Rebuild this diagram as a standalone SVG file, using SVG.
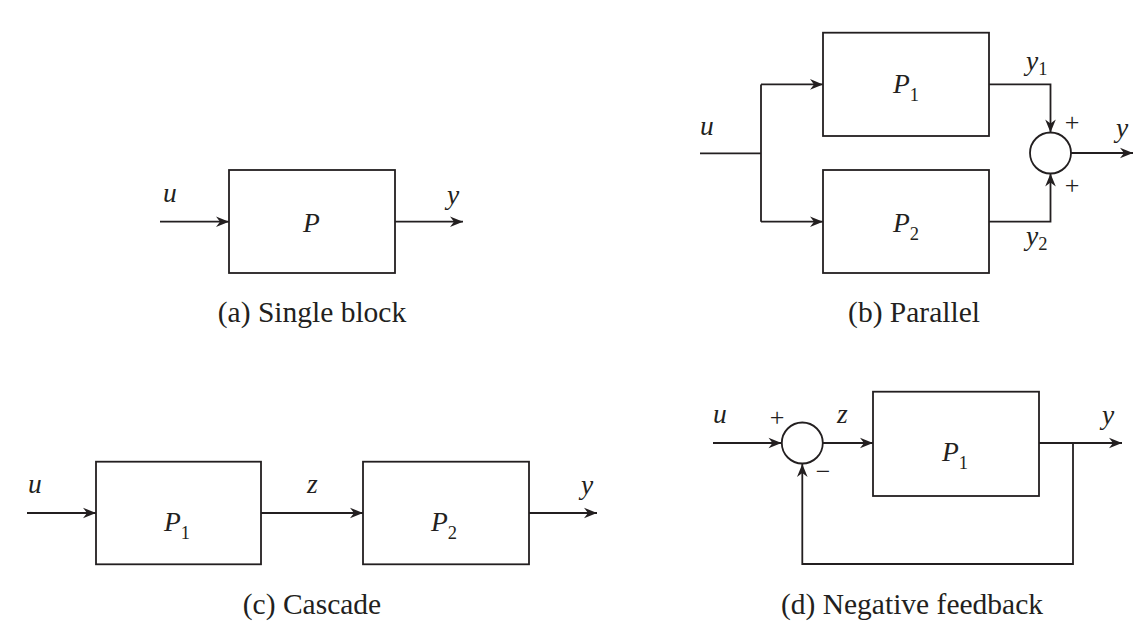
<svg xmlns="http://www.w3.org/2000/svg" width="1146" height="636" viewBox="0 0 1146 636">
<defs>
<style>
.ln{fill:none;stroke:#231f20;stroke-width:1.8}
.bx{fill:#fff;stroke:#231f20;stroke-width:1.8}
.m{font-family:"Liberation Serif",serif;font-style:italic;font-size:27.5px;fill:#231f20}
.s{font-style:normal;font-size:18.5px}
.c{font-family:"Liberation Serif",serif;font-size:29.5px;fill:#231f20;text-anchor:middle}
.sg{font-family:"Liberation Serif",serif;font-size:26px;fill:#231f20;text-anchor:middle}
</style>
<marker id="ah" viewBox="-14 -6 15 12" refX="0" refY="0" markerWidth="15" markerHeight="12" markerUnits="userSpaceOnUse" orient="auto">
<path d="M0,0 L-13,-5.3 L-9,0 L-13,5.3 Z" fill="#231f20"/>
</marker>
</defs>
<g id="connectors">
<line class="ln" x1="160" y1="221.7" x2="229" y2="221.7" marker-end="url(#ah)"/>
<line class="ln" x1="395" y1="221.7" x2="463" y2="221.7" marker-end="url(#ah)"/>
<line class="ln" x1="700" y1="153.3" x2="761" y2="153.3"/>
<line class="ln" x1="761" y1="84.4" x2="761" y2="221.7"/>
<line class="ln" x1="761" y1="84.4" x2="823" y2="84.4" marker-end="url(#ah)"/>
<line class="ln" x1="761" y1="221.7" x2="823" y2="221.7" marker-end="url(#ah)"/>
<polyline class="ln" points="989,84.4 1050.5,84.4 1050.5,132.5" marker-end="url(#ah)"/>
<polyline class="ln" points="989,221.7 1050.5,221.7 1050.5,173.5" marker-end="url(#ah)"/>
<line class="ln" x1="1071" y1="153" x2="1133" y2="153" marker-end="url(#ah)"/>
<line class="ln" x1="27" y1="513" x2="96" y2="513" marker-end="url(#ah)"/>
<line class="ln" x1="261" y1="513" x2="363" y2="513" marker-end="url(#ah)"/>
<line class="ln" x1="529" y1="513" x2="597" y2="513" marker-end="url(#ah)"/>
<line class="ln" x1="713" y1="443" x2="781.5" y2="443" marker-end="url(#ah)"/>
<line class="ln" x1="823" y1="443" x2="873" y2="443" marker-end="url(#ah)"/>
<line class="ln" x1="1039" y1="443" x2="1122" y2="443" marker-end="url(#ah)"/>
<polyline class="ln" points="1073,443 1073,564 802.3,564 802.3,464" marker-end="url(#ah)"/>
</g>
<g id="a-block">
<rect class="bx" x="229" y="170" width="166" height="103"/>
<text class="m" x="303" y="231.5">P</text>
</g>
<g id="a-labels">
<text class="m" x="163" y="202">u</text>
<text class="m" x="447" y="204">y</text>
<text class="c" x="312" y="322">(a) Single block</text>
</g>
<g id="b-p1">
<rect class="bx" x="823" y="32.7" width="166" height="103.3"/>
<text class="m" x="893" y="93.3">P<tspan class="s" dy="8">1</tspan></text>
</g>
<g id="b-p2">
<rect class="bx" x="823" y="170" width="166" height="103"/>
<text class="m" x="893" y="231.5">P<tspan class="s" dy="8">2</tspan></text>
</g>
<g id="b-sum">
<circle class="ln" cx="1050.5" cy="153" r="20.5"/>
<text class="sg" x="1072" y="131" fill="#231f20">+</text>
<text class="sg" x="1072" y="194" fill="#231f20">+</text>
</g>
<g id="b-labels">
<text class="m" x="700" y="135">u</text>
<text class="m" x="1116" y="137">y</text>
<text class="m" x="1026" y="70">y<tspan class="s" dy="5">1</tspan></text>
<text class="m" x="1026" y="245">y<tspan class="s" dy="5">2</tspan></text>
<text class="c" x="914" y="322">(b) Parallel</text>
</g>
<g id="c-p1">
<rect class="bx" x="96" y="461.7" width="165" height="102.6"/>
<text class="m" x="164" y="531">P<tspan class="s" dy="8">1</tspan></text>
</g>
<g id="c-p2">
<rect class="bx" x="363" y="461.7" width="166" height="102.6"/>
<text class="m" x="431" y="531">P<tspan class="s" dy="8">2</tspan></text>
</g>
<g id="c-labels">
<text class="m" x="28" y="493">u</text>
<text class="m" x="307" y="493">z</text>
<text class="m" x="581" y="494">y</text>
<text class="c" x="312" y="614">(c) Cascade</text>
</g>
<g id="d-sum">
<circle class="ln" cx="802.3" cy="443" r="20.5"/>
<text class="sg" x="777" y="426">+</text>
<text class="sg" x="823" y="480">−</text>
</g>
<g id="d-p1">
<rect class="bx" x="873" y="391.7" width="166" height="104.3"/>
<text class="m" x="942" y="461">P<tspan class="s" dy="8">1</tspan></text>
</g>
<g id="d-labels">
<text class="m" x="713" y="423">u</text>
<text class="m" x="837" y="423">z</text>
<text class="m" x="1102" y="424">y</text>
<text class="c" x="912" y="614">(d) Negative feedback</text>
</g>
</svg>
